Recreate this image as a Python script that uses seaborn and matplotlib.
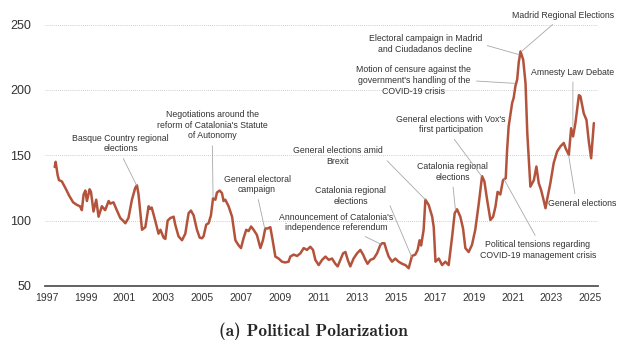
import matplotlib
matplotlib.use("Agg")
import matplotlib.pyplot as plt
import seaborn as sns

# Political polarization index (decimal years)
years = [
    1997.40, 1997.45, 1997.55, 1997.62, 1997.77, 1997.95, 1998.15, 1998.35, 1998.55, 1998.70,
    1998.80, 1998.89, 1998.98, 1999.06, 1999.20, 1999.27, 1999.40, 1999.54, 1999.66, 1999.83,
    2000.00, 2000.18, 2000.26, 2000.43, 2000.60, 2000.78, 2000.92, 2001.04, 2001.20, 2001.38,
    2001.55, 2001.64, 2001.72, 2001.90, 2002.07, 2002.24, 2002.32, 2002.40, 2002.58, 2002.75,
    2002.85, 2003.01, 2003.10, 2003.22, 2003.36, 2003.53, 2003.61, 2003.78, 2003.96, 2004.13,
    2004.30, 2004.42, 2004.56, 2004.73, 2004.87, 2004.99, 2005.07, 2005.21, 2005.33, 2005.45,
    2005.56, 2005.68, 2005.76, 2005.90, 2006.02, 2006.10, 2006.19, 2006.36, 2006.54, 2006.71,
    2006.88, 2007.00, 2007.13, 2007.27, 2007.39, 2007.52, 2007.65, 2007.82, 2008.00, 2008.13,
    2008.25, 2008.37, 2008.51, 2008.63, 2008.77, 2008.94, 2009.11, 2009.28, 2009.45, 2009.54,
    2009.71, 2009.89, 2010.06, 2010.23, 2010.40, 2010.57, 2010.71, 2010.83, 2011.00, 2011.18,
    2011.35, 2011.52, 2011.69, 2011.86, 2011.98, 2012.12, 2012.26, 2012.38, 2012.50, 2012.63,
    2012.80, 2012.98, 2013.15, 2013.29, 2013.41, 2013.52, 2013.67, 2013.84, 2014.01, 2014.18,
    2014.27, 2014.39, 2014.49, 2014.61, 2014.78, 2014.95, 2015.12, 2015.30, 2015.47, 2015.64,
    2015.81, 2015.98, 2016.10, 2016.20, 2016.28, 2016.41, 2016.50, 2016.67, 2016.85, 2016.93,
    2017.02, 2017.19, 2017.36, 2017.53, 2017.70, 2017.88, 2018.01, 2018.13, 2018.30, 2018.44,
    2018.56, 2018.73, 2018.90, 2019.07, 2019.25, 2019.42, 2019.54, 2019.68, 2019.85, 2019.99,
    2020.11, 2020.22, 2020.36, 2020.50, 2020.64, 2020.71, 2020.79, 2020.97, 2021.05, 2021.14,
    2021.23, 2021.31, 2021.40, 2021.54, 2021.66, 2021.75, 2021.82, 2021.91, 2022.09, 2022.22,
    2022.34, 2022.46, 2022.57, 2022.69, 2022.77, 2022.94, 2023.11, 2023.29, 2023.46, 2023.54,
    2023.63, 2023.72, 2023.89, 2024.01, 2024.11, 2024.23, 2024.41, 2024.49, 2024.66, 2024.80,
    2024.92, 2025.04, 2025.18,
]
polarization = [
    141, 145, 135, 131, 130, 125, 119, 114, 112, 111,
    108, 120, 123, 115, 124, 122, 107, 116, 103, 111,
    108, 115, 113, 114, 108, 102, 100, 98, 102, 116,
    125, 127, 120, 93, 95, 111, 109, 110, 100, 90,
    93, 87, 86, 100, 102, 103, 97, 88, 85, 90,
    105.7, 107.7, 104, 93, 87, 86.5, 88, 97, 98, 104,
    117, 116, 121.5, 123, 121, 115, 116, 111, 103, 85,
    81, 79, 86.5, 93, 92, 95.5, 93, 89, 79, 85,
    94, 94, 95, 85, 72.5, 71, 68.6, 68, 68.6, 72.5,
    74, 73, 75, 79, 77.6, 80, 77.6, 70, 66, 70,
    72.5, 70, 71, 67, 65, 70, 75, 76, 70, 65,
    71, 75, 77.6, 74, 70, 67, 70, 71, 75, 81.4,
    82.7, 82.7, 77.6, 72.5, 68.6, 71, 68.6, 67, 66, 63.6,
    73, 74, 77.6, 85, 81, 93, 116, 112, 103, 95,
    68.6, 71, 66, 68.6, 66, 88, 105.7, 108.7, 103, 94,
    79, 76, 81.4, 93, 113, 134, 130, 116, 100.5, 103,
    110.7, 122, 120, 131, 132.5, 154, 172, 190, 194, 203,
    208, 221, 229.4, 223, 205, 167, 149, 126, 131, 141.4,
    128.7, 123.5, 117, 109.5, 116, 128.7, 144, 153, 156.8, 158,
    159.4, 155.5, 150.3, 170.7, 164.4, 174.6, 196, 195, 182, 177,
    160.5, 147.7, 174.6,
]

# Event annotations
event_labels = [
    "Basque Country regional\nelections",
    "Negotiations around the\nreform of Catalonia's Statute\nof Autonomy",
    "General electoral\ncampaign",
    "Announcement of Catalonia's\nindependence referendum",
    "Catalonia regional\nelections",
    "General elections amid\nBrexit",
    "Catalonia regional\nelections",
    "General elections with Vox's\nfirst participation",
    "Motion of censure against the\ngovernment's handling of the\nCOVID-19 crisis",
    "Electoral campaign in Madrid\nand Ciudadanos decline",
    "Madrid Regional Elections",
    "Amnesty Law Debate",
    "General elections",
    "Political tensions regarding\nCOVID-19 management crisis",
]
event_x = [2001.62, 2005.56, 2008.22, 2014.2, 2015.8, 2016.5, 2018.05, 2019.4,
           2021.1, 2021.32, 2021.45, 2024.1, 2023.88, 2020.54]
event_y = [127, 118, 94, 82, 72, 116, 108, 134, 205, 227, 229.4, 172, 150, 132]
label_x = [2000.8, 2005.52, 2007.83, 2011.9, 2012.64, 2011.97, 2017.9, 2017.8,
           2015.9, 2016.5, 2023.6, 2024.1, 2024.6, 2022.3]
label_y = [159, 173, 127.7, 98.6, 118.8, 149.5, 137.3, 173.5, 207, 235, 257, 213.6, 113, 77.3]
label_anchor = [(0.5, 0), (0.5, 0), (0.5, 0), (0.68, 0), (1, 0.5), (1, 0.5), (0.5, 0),
                (0.5, 0), (1, 0.5), (1, 0.5), (0.45, 0), (0.5, 0), (0.4, 1), (0.5, 1)]

sns.set_style("white")
plt.rcParams['font.family'] = ['Liberation Sans', 'DejaVu Sans']

fig = plt.figure(figsize=(6.3, 3.52), dpi=100)
ax = fig.add_axes([0.0714, 0.1875, 0.878, 0.78])

sns.lineplot(x=years, y=polarization, ax=ax, color='#b4533c', linewidth=1.8)

for lab, px, py, tx, ty, rp in zip(event_labels, event_x, event_y, label_x, label_y, label_anchor):
    ax.annotate(lab, xy=(px, py), xytext=(tx, ty), ha='center', va='center',
                fontsize=6.3, color='#333333', linespacing=1.25,
                arrowprops=dict(arrowstyle='-', color='#a8a8a8', lw=0.6,
                                shrinkA=1.5, shrinkB=0, relpos=rp),
                annotation_clip=False)

ax.set_xlim(1996.9, 2025.4)
ax.set_ylim(50, 260)
ax.set_xticks(range(1997, 2026, 2))
ax.set_yticks([50, 100, 150, 200, 250])
ax.tick_params(axis='x', labelsize=7.5, colors='#333333', length=0, pad=5)
ax.tick_params(axis='y', labelsize=9, colors='#333333', length=0, pad=10)
ax.grid(axis='y', linestyle=(0, (1, 1.5)), color='#bdbdbd', linewidth=0.6)
ax.grid(axis='x', visible=False)
ax.set_xlabel('')
ax.set_ylabel('')
sns.despine(ax=ax, left=True)
ax.spines['bottom'].set_color('#555555')
ax.spines['bottom'].set_linewidth(1.3)

fig.text(0.497, 0.058, '(a) Political Polarization', ha='center', va='center',
         fontsize=12.5, fontweight='bold', family=['cmb10', 'DejaVu Serif'])

fig.savefig('out.png', dpi=100)
